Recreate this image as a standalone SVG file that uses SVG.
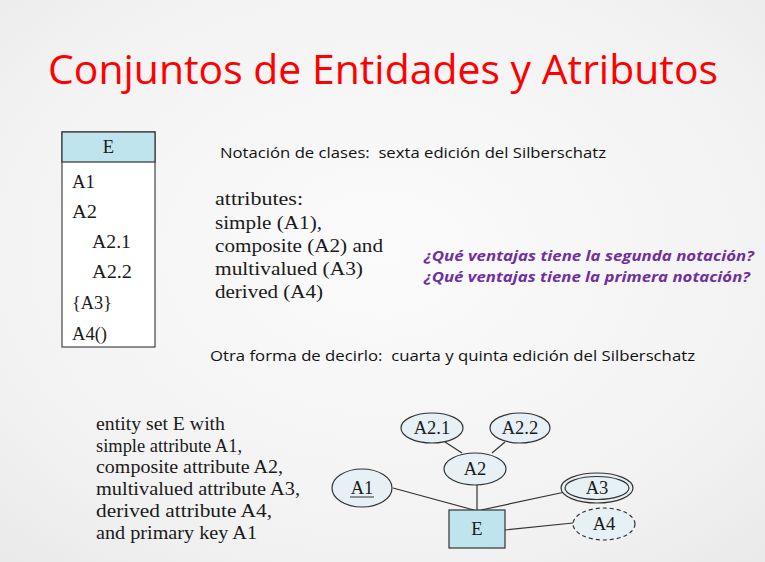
<svg xmlns="http://www.w3.org/2000/svg" width="765" height="562" viewBox="0 0 765 562">
  <defs>
    <radialGradient id="bg" cx="0.5" cy="0.45" r="0.75">
      <stop offset="0" stop-color="#fbfbfb"/>
      <stop offset="0.7" stop-color="#f2f2f2"/>
      <stop offset="1" stop-color="#e9e9e9"/>
    </radialGradient>
    <style>
      .serif { font-family: "Liberation Serif", "DejaVu Serif", serif; fill: #1a1a1a; }
      .sans { font-family: "Open Sans", "Liberation Sans", sans-serif; fill: #111; white-space: pre; }
      .q { font-family: "Open Sans", "Liberation Sans", sans-serif; font-weight: bold; font-style: italic; font-size: 15px; fill: #7030a0; }
      .attr { fill: #e6f0f5; stroke: #333; stroke-width: 1.2; }
      .ent { fill: #c0e4ee; stroke: #333; stroke-width: 1.2; }
      .conn line { stroke: #333; stroke-width: 1.2; }
      .lbl { font-family: "Liberation Serif", "DejaVu Serif", serif; font-size: 18.5px; fill: #1a1a1a; text-anchor: middle; }
    </style>
  </defs>

  <rect width="765" height="562" fill="url(#bg)"/>

  <!-- title -->
  <text x="48" y="84" font-family="Open Sans, Liberation Sans, sans-serif" font-size="40" fill="#ff0000" textLength="670" lengthAdjust="spacingAndGlyphs">Conjuntos de Entidades y Atributos</text>

  <!-- class notation box -->
  <g id="class-E">
    <rect x="62" y="132" width="93" height="215" fill="#ffffff" stroke="#444" stroke-width="1.2"/>
    <rect x="62" y="132" width="93" height="30" class="ent"/>
    <text x="108.5" y="153" class="lbl">E</text>
    <g class="serif" font-size="19.5">
      <text x="72" y="188" textLength="23" lengthAdjust="spacingAndGlyphs">A1</text>
      <text x="72" y="218" textLength="25" lengthAdjust="spacingAndGlyphs">A2</text>
      <text x="92" y="248" textLength="39" lengthAdjust="spacingAndGlyphs">A2.1</text>
      <text x="92" y="278" textLength="40" lengthAdjust="spacingAndGlyphs">A2.2</text>
      <text x="72" y="309" textLength="40" lengthAdjust="spacingAndGlyphs">{A3}</text>
      <text x="72" y="340" textLength="35" lengthAdjust="spacingAndGlyphs">A4()</text>
    </g>
  </g>

  <text x="220" y="158" class="sans" font-size="15" textLength="386" lengthAdjust="spacingAndGlyphs">Notación de clases:  sexta edición del Silberschatz</text>

  <g class="serif" font-size="19.5">
    <text x="215" y="205" textLength="88" lengthAdjust="spacingAndGlyphs">attributes:</text>
    <text x="215" y="229" textLength="107" lengthAdjust="spacingAndGlyphs">simple (A1),</text>
    <text x="215" y="252" textLength="168" lengthAdjust="spacingAndGlyphs">composite (A2) and</text>
    <text x="215" y="275" textLength="148" lengthAdjust="spacingAndGlyphs">multivalued (A3)</text>
    <text x="215" y="298" textLength="108" lengthAdjust="spacingAndGlyphs">derived (A4)</text>
  </g>

  <text x="424" y="261" class="q" textLength="330" lengthAdjust="spacingAndGlyphs">¿Qué ventajas tiene la segunda notación?</text>
  <text x="424" y="282" class="q" textLength="326" lengthAdjust="spacingAndGlyphs">¿Qué ventajas tiene la primera notación?</text>

  <text x="210" y="361" class="sans" font-size="15" textLength="485" lengthAdjust="spacingAndGlyphs">Otra forma de decirlo:  cuarta y quinta edición del Silberschatz</text>

  <g class="serif" font-size="19">
    <text x="96" y="430" textLength="129" lengthAdjust="spacingAndGlyphs">entity set E with</text>
    <text x="96" y="452" textLength="146" lengthAdjust="spacingAndGlyphs">simple attribute A1,</text>
    <text x="96" y="473" textLength="187" lengthAdjust="spacingAndGlyphs">composite attribute A2,</text>
    <text x="96" y="495" textLength="204" lengthAdjust="spacingAndGlyphs">multivalued attribute A3,</text>
    <text x="96" y="517" textLength="176" lengthAdjust="spacingAndGlyphs">derived attribute A4,</text>
    <text x="96" y="539" textLength="161" lengthAdjust="spacingAndGlyphs">and primary key A1</text>
  </g>

  <!-- ER diagram connectors -->
  <g id="connectors" class="conn">
    <line x1="445" y1="442" x2="462" y2="453"/>
    <line x1="505" y1="442" x2="492" y2="453"/>
    <line x1="477" y1="485" x2="477" y2="510"/>
    <line x1="393" y1="488" x2="474" y2="510"/>
    <line x1="565" y1="492" x2="481" y2="510"/>
    <line x1="505" y1="530" x2="573" y2="523"/>
  </g>

  <!-- ER diagram nodes -->
  <g id="attr-A2-1">
    <ellipse cx="432" cy="428" rx="31" ry="15" class="attr"/>
    <text x="432" y="434" class="lbl">A2.1</text>
  </g>
  <g id="attr-A2-2">
    <ellipse cx="520" cy="428" rx="30" ry="15" class="attr"/>
    <text x="520" y="434" class="lbl">A2.2</text>
  </g>
  <g id="attr-A2">
    <ellipse cx="475" cy="469" rx="31" ry="16" class="attr"/>
    <text x="475" y="475" class="lbl">A2</text>
  </g>
  <g id="attr-A1">
    <ellipse cx="362" cy="488" rx="30" ry="19" class="attr"/>
    <text x="362" y="494" class="lbl">A1</text>
    <line x1="350" y1="497" x2="374" y2="497" stroke="#333" stroke-width="1"/>
  </g>
  <g id="attr-A3">
    <ellipse cx="597" cy="488" rx="36" ry="15" class="attr"/>
    <ellipse cx="597" cy="488" rx="32" ry="11.5" fill="none" stroke="#333" stroke-width="1.2"/>
    <text x="597" y="494" class="lbl">A3</text>
  </g>
  <g id="attr-A4">
    <ellipse cx="604" cy="524" rx="31" ry="16" class="attr" stroke-dasharray="4 3"/>
    <text x="604" y="530" class="lbl">A4</text>
  </g>
  <g id="entity-E">
    <rect x="449" y="510" width="56" height="38" class="ent"/>
    <text x="477" y="535" class="lbl">E</text>
  </g>
</svg>
